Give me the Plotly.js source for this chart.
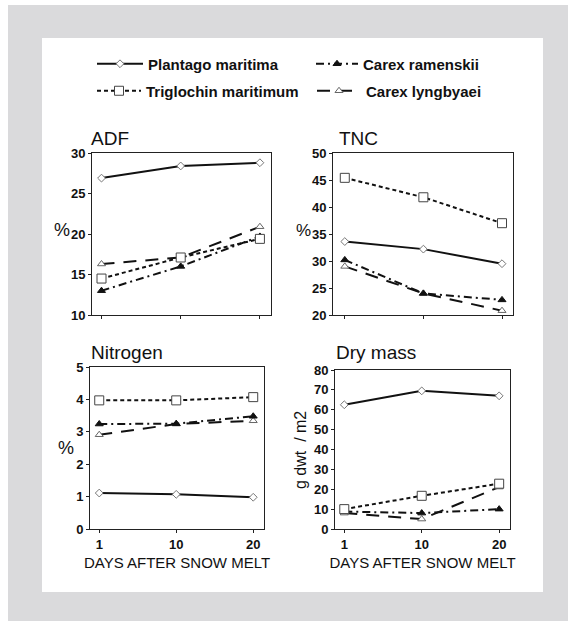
<!DOCTYPE html>
<html>
<head>
<meta charset="utf-8">
<script src="https://cdn.plot.ly/plotly-3.0.1.min.js"></script>
<style>html,body{margin:0;padding:0;background:#fff;}#chart{width:574px;height:621px;}</style>
</head>
<body>
<div id="chart"></div>
<script>
// ---- data ----
const days = ['1', '10', '20'];
const speciesNames = ['Plantago maritima', 'Triglochin maritimum', 'Carex ramenskii', 'Carex lyngbyaei'];

const adfPlantago   = [26.9, 28.4, 28.8];
const adfTriglochin = [14.5, 17.1, 19.4];
const adfRamenskii  = [13.0, 16.0, 19.7];
const adfLyngbyaei  = [16.3, 17.1, 20.9];

const tncPlantago   = [33.6, 32.2, 29.5];
const tncTriglochin = [45.4, 41.8, 37.0];
const tncRamenskii  = [30.2, 24.0, 22.8];
const tncLyngbyaei  = [29.0, 24.0, 20.8];

const nPlantago   = [1.11, 1.07, 0.98];
const nTriglochin = [3.97, 3.97, 4.07];
const nRamenskii  = [3.24, 3.25, 3.48];
const nLyngbyaei  = [2.91, 3.24, 3.34];

const dmPlantago   = [62.5, 69.5, 67.0];
const dmTriglochin = [10.0, 16.7, 22.8];
const dmRamenskii  = [8.8, 8.0, 10.0];
const dmLyngbyaei  = [8.0, 5.0, 21.1];

const panelTitles = ['ADF', 'TNC', 'Nitrogen', 'Dry mass'];
const yTitles = ['%', '%', '%', 'g dwt  / m2'];
const xTitle = 'DAYS AFTER SNOW MELT';

// ---- styles ----
const W = 574, H = 621;
const px = v => v / W;
const py = v => 1 - v / H;
const FONT = 'Liberation Sans, Arial, sans-serif';

const styles = {
  'Plantago maritima':   {line: {color: '#111', width: 2, dash: 'solid'},
                          marker: {symbol: 'diamond', size: 6, color: '#fff', line: {color: '#777', width: 1}}},
  'Triglochin maritimum':{line: {color: '#111', width: 2, dash: '4px,3px'},
                          marker: {symbol: 'square', size: 9, color: '#fff', line: {color: '#444', width: 1}}},
  'Carex ramenskii':     {line: {color: '#111', width: 2, dash: '8px,4px,2px,4px'},
                          marker: {symbol: 'triangle-up', size: 7, color: '#111', line: {color: '#111', width: 1}}},
  'Carex lyngbyaei':     {line: {color: '#111', width: 2, dash: '13px,9px'},
                          marker: {symbol: 'triangle-up', size: 7, color: '#fff', line: {color: '#666', width: 1}}}
};
const legendFor = {
  'Plantago maritima': 'legend', 'Carex ramenskii': 'legend2',
  'Triglochin maritimum': 'legend3', 'Carex lyngbyaei': 'legend4'
};

const panels = [
  {xa: 'x',  ya: 'y',  vals: [adfPlantago, adfTriglochin, adfRamenskii, adfLyngbyaei]},
  {xa: 'x2', ya: 'y2', vals: [tncPlantago, tncTriglochin, tncRamenskii, tncLyngbyaei]},
  {xa: 'x3', ya: 'y3', vals: [nPlantago, nTriglochin, nRamenskii, nLyngbyaei]},
  {xa: 'x4', ya: 'y4', vals: [dmPlantago, dmTriglochin, dmRamenskii, dmLyngbyaei]}
];

const drawOrder = [3, 2, 1, 0];
const traces = [];
panels.forEach((p, pi) => {
  drawOrder.forEach(si => {
    const name = speciesNames[si];
    traces.push({
      type: 'scatter', mode: 'lines+markers',
      x: days, y: p.vals[si], name: name,
      xaxis: p.xa, yaxis: p.ya,
      line: styles[name].line, marker: styles[name].marker,
      showlegend: pi === 0, legend: legendFor[name],
      cliponaxis: false
    });
  });
});

function xAxis(d0, d1, anchor, withTitle, r0) {
  const a = {
    type: 'category', domain: [px(d0), px(d1)], anchor: anchor,
    range: [r0, 2.14], showgrid: false, zeroline: false,
    showline: true, linecolor: '#222', linewidth: 1, mirror: true,
    ticks: 'outside', ticklen: 3, tickcolor: '#222',
    tickfont: {family: FONT, size: 13, color: '#111', weight: 'bold'},
    showticklabels: withTitle, fixedrange: true
  };
  if (withTitle) a.title = {text: xTitle, standoff: 6, font: {family: FONT, size: 15, color: '#111'}};
  return a;
}
function yAxis(d0, d1, anchor, range, dtick) {
  return {
    domain: [py(d1), py(d0)], anchor: anchor, range: range, dtick: dtick,
    showgrid: false, zeroline: false,
    showline: true, linecolor: '#222', linewidth: 1, mirror: true,
    ticks: 'outside', ticklen: 3, tickcolor: '#222',
    tickfont: {family: FONT, size: 13, color: '#111', weight: 'bold'},
    fixedrange: true
  };
}

const ann = [];
function addText(text, x, y, size, opts) {
  ann.push(Object.assign({text: text, xref: 'paper', yref: 'paper', x: px(x), y: py(y),
    xanchor: 'left', yanchor: 'middle', showarrow: false,
    font: {family: FONT, size: size, color: '#111'}}, opts || {}));
}
addText(panelTitles[0], 89, 138, 19);
addText(panelTitles[1], 337, 138, 19);
addText(panelTitles[2], 89, 352, 19);
addText(panelTitles[3], 334, 352, 19);
addText(yTitles[0], 62, 230, 18, {xanchor: 'center'});
addText(yTitles[1], 303, 230, 17, {xanchor: 'center'});
addText(yTitles[2], 66, 448, 18, {xanchor: 'center'});
addText(yTitles[3], 300, 450, 16, {xanchor: 'center', textangle: -90});

const legBase = {
  orientation: 'v', bgcolor: 'rgba(0,0,0,0)', borderwidth: 0,
  font: {family: FONT, size: 15, color: '#111', weight: 'bold'},
  xref: 'paper', yref: 'paper', xanchor: 'left', yanchor: 'middle'
};

const layout = {
  width: W, height: H,
  margin: {l: 0, r: 0, t: 0, b: 0, pad: 0},
  paper_bgcolor: '#ffffff', plot_bgcolor: 'rgba(0,0,0,0)',
  font: {family: FONT, color: '#111'},
  showlegend: true,
  legend:  Object.assign({}, legBase, {x: px(92), y: py(64), itemwidth: 46}),
  legend2: Object.assign({}, legBase, {x: px(311), y: py(64), itemwidth: 42}),
  legend3: Object.assign({}, legBase, {x: px(92), y: py(91), itemwidth: 44}),
  legend4: Object.assign({}, legBase, {x: px(312), y: py(91), itemwidth: 44}),
  xaxis:  xAxis(92, 271, 'y', false, -0.12),
  yaxis:  yAxis(153, 315, 'x', [10, 30], 5),
  xaxis2: xAxis(333, 513, 'y2', false, -0.15),
  yaxis2: yAxis(153, 315, 'x2', [20, 50], 5),
  xaxis3: xAxis(90, 264, 'y3', true, -0.12),
  yaxis3: yAxis(367, 529, 'x3', [0, 5], 1),
  xaxis4: xAxis(335, 510, 'y4', true, -0.12),
  yaxis4: yAxis(370, 529, 'x4', [0, 80], 10),
  annotations: ann,
  shapes: [
    {type: 'rect', xref: 'paper', yref: 'paper', x0: px(8), x1: px(568), y0: 0, y1: py(5),
     fillcolor: '#dadadc', line: {width: 0}, layer: 'below'},
    {type: 'rect', xref: 'paper', yref: 'paper', x0: px(42), x1: px(543), y0: py(592), y1: py(38),
     fillcolor: '#ffffff', line: {width: 0}, layer: 'below'}
  ]
};

Plotly.newPlot('chart', traces, layout, {staticPlot: true, displayModeBar: false});
</script>
</body>
</html>
